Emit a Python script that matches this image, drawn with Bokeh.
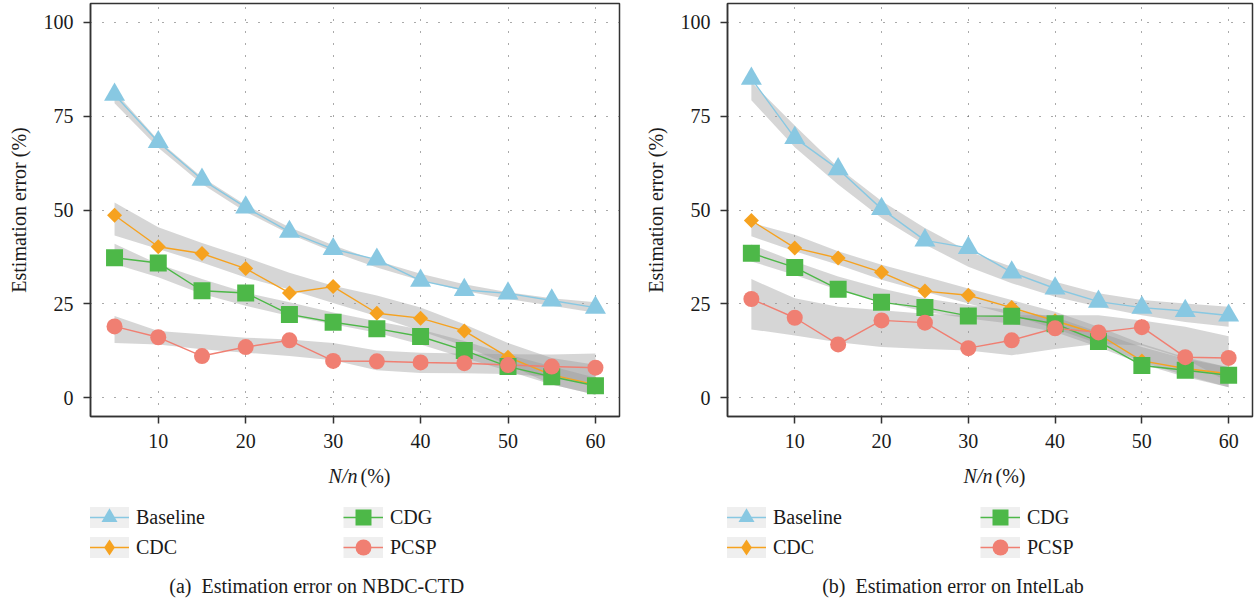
import math
from bokeh.plotting import figure
from bokeh.models import Range1d, FixedTicker, Legend, LegendItem, Label
from bokeh.layouts import row, column
from bokeh.embed import file_html
from bokeh.resources import INLINE

FONT = "Liberation Serif"

# ---------------- data ----------------
N_PCT = [5, 10, 15, 20, 25, 30, 35, 40, 45, 50, 55, 60]
METHODS = ["Baseline", "CDC", "CDG", "PCSP"]
LEGEND_ROWS = [["Baseline", "CDG"], ["CDC", "PCSP"]]
X_TICKS = [10, 20, 30, 40, 50, 60]
Y_TICKS = [0, 25, 50, 75, 100]

# (a) NBDC-CTD : measured errors
A_BASELINE = [80.7, 68.1, 58.1, 50.7, 44.2, 39.6, 36.8, 31.2, 28.7, 27.8, 25.9, 24.0]
A_CDC = [48.6, 40.2, 38.4, 34.4, 27.9, 29.6, 22.5, 21.2, 17.8, 10.8, 6.1, 3.5]
A_CDG = [37.3, 35.9, 28.5, 27.9, 22.2, 20.1, 18.4, 16.3, 12.6, 8.3, 5.6, 3.2]
A_PCSP = [19.0, 16.1, 11.1, 13.5, 15.3, 9.8, 9.7, 9.4, 9.2, 8.7, 8.3, 8.0]
# (a) smoothing confidence bands (lower, upper)
A_BASELINE_LO = [78.4, 66.6, 56.9, 49.5, 43.6, 38.8, 34.7, 31.2, 28.4, 26.3, 24.5, 22.6]
A_BASELINE_HI = [81.6, 68.6, 58.7, 51.3, 45.4, 40.6, 36.5, 33.0, 30.2, 28.1, 26.5, 25.4]
A_CDC_LO = [43.2, 39.6, 36.0, 32.0, 28.8, 25.2, 21.7, 17.8, 13.8, 8.8, 3.5, 0.8]
A_CDC_HI = [52.0, 45.4, 41.2, 37.4, 33.3, 29.8, 27.2, 24.0, 19.6, 14.6, 10.6, 8.8]
A_CDG_LO = [35.6, 32.1, 27.6, 24.5, 21.8, 19.6, 17.3, 14.2, 10.6, 7.1, 3.5, 0.8]
A_CDG_HI = [41.0, 35.6, 31.6, 28.0, 25.4, 22.7, 20.4, 18.2, 15.1, 11.5, 8.4, 5.3]
A_PCSP_LO = [14.6, 14.2, 12.9, 12.0, 11.1, 10.0, 7.3, 6.6, 6.5, 6.3, 5.5, 4.0]
A_PCSP_HI = [21.8, 17.8, 16.9, 16.0, 15.5, 14.6, 12.6, 12.0, 11.8, 11.6, 11.5, 11.8]

# (b) IntelLab : measured errors
B_BASELINE = [85.0, 69.2, 60.9, 50.3, 41.9, 39.9, 33.4, 29.1, 25.6, 24.0, 23.1, 21.9]
B_CDC = [47.2, 39.9, 37.2, 33.4, 28.4, 27.3, 24.0, 20.5, 16.9, 9.8, 7.8, 6.4]
B_CDG = [38.5, 34.7, 28.9, 25.4, 24.0, 21.8, 21.7, 19.7, 15.0, 8.6, 7.3, 6.0]
B_PCSP = [26.3, 21.3, 14.2, 20.6, 20.0, 13.2, 15.3, 18.5, 17.4, 18.8, 10.8, 10.6]
# (b) smoothing confidence bands (lower, upper)
B_BASELINE_LO = [79.2, 66.7, 56.8, 47.9, 40.8, 34.9, 30.5, 26.9, 24.2, 22.0, 20.2, 18.9]
B_BASELINE_HI = [84.1, 72.5, 61.3, 52.4, 45.2, 39.0, 34.9, 30.9, 27.8, 26.0, 25.1, 24.2]
B_CDC_LO = [43.0, 39.0, 35.4, 31.4, 28.2, 25.1, 22.0, 18.4, 14.4, 9.5, 5.9, 2.8]
B_CDC_HI = [46.6, 43.4, 39.0, 35.4, 32.3, 29.1, 26.0, 22.9, 18.9, 14.4, 10.8, 8.1]
B_CDG_LO = [36.3, 32.7, 28.7, 25.6, 22.9, 21.1, 19.7, 17.5, 13.5, 9.0, 5.5, 2.8]
B_CDG_HI = [40.8, 36.3, 32.3, 29.1, 26.5, 24.7, 23.3, 21.5, 17.5, 13.5, 10.4, 8.1]
B_PCSP_LO = [18.2, 16.6, 14.8, 13.5, 13.0, 12.6, 11.3, 13.0, 14.4, 13.9, 10.4, 4.1]
B_PCSP_HI = [31.6, 26.5, 24.2, 23.3, 22.4, 22.0, 22.0, 22.0, 22.0, 20.6, 18.9, 16.4]

CAPTION_A = ("(a)", "Estimation error on NBDC-CTD")
CAPTION_B = ("(b)", "Estimation error on IntelLab")
Y_TITLE = "Estimation error (%)"
X_TITLE = ("N/n", "(%)")

# ---------------- styles ----------------
COLORS = {"Baseline": "#88C8E2", "CDC": "#F6A21F", "CDG": "#4DB848", "PCSP": "#F07F72"}
MARKERS = {"Baseline": ("triangle", 21, 0.0), "CDC": ("square", 10.6, math.pi / 4),
           "CDG": ("square", 17, 0.0), "PCSP": ("circle", 16, 0.0)}
LEGEND_MARKERS = {"Baseline": "triangle", "CDC": "diamond", "CDG": "square", "PCSP": "circle"}
TXT = "#1a1a1a"
NAN = [float("nan")]

MAIN_H = 456
FOOT_H = 142


def make_panel(values, bands, width, mb_left, mb_right):
    p = figure(width=width, height=MAIN_H, x_range=Range1d(2.25, 62.75), y_range=Range1d(-5, 105),
               output_backend="svg", toolbar_location=None, title=None,
               min_border_left=mb_left, min_border_right=mb_right,
               min_border_top=3, min_border_bottom=40)
    p.background_fill_color = "white"
    p.border_fill_color = "white"
    p.outline_line_color = "#333333"
    p.outline_line_width = 1.5
    p.outline_line_alpha = 1.0

    for ax in (p.xaxis[0], p.yaxis[0]):
        ax.axis_line_color = "#333333"
        ax.axis_line_width = 1.5
        ax.major_tick_line_color = "#333333"
        ax.major_tick_line_width = 1.5
        ax.major_tick_out = 7
        ax.major_tick_in = 0
        ax.minor_tick_line_color = None
        ax.major_label_text_font = FONT
        ax.major_label_text_font_size = "20px"
        ax.major_label_text_color = TXT
    p.xaxis.ticker = FixedTicker(ticks=X_TICKS)
    p.yaxis.ticker = FixedTicker(ticks=Y_TICKS)
    p.xaxis.major_label_standoff = 10
    p.yaxis.major_label_standoff = 10
    p.yaxis.axis_label = Y_TITLE
    p.yaxis.axis_label_text_font = FONT
    p.yaxis.axis_label_text_font_size = "20px"
    p.yaxis.axis_label_text_font_style = "normal"
    p.yaxis.axis_label_text_color = TXT
    p.yaxis.axis_label_standoff = 11

    for g in (p.xgrid[0], p.ygrid[0]):
        g.grid_line_color = "#555555"
        g.grid_line_width = 1
        g.grid_line_dash = "1 11"

    for m in METHODS:
        lo, hi = bands[m]
        p.varea(x=N_PCT, y1=lo, y2=hi, fill_color="#999999", fill_alpha=0.4)
    for m in METHODS:
        p.line(N_PCT, values[m], line_color=COLORS[m], line_width=1.4)
    for m in METHODS:
        marker, size, angle = MARKERS[m]
        p.scatter(N_PCT, values[m], marker=marker, size=size, angle=angle,
                  fill_color=COLORS[m], line_color=None)
    return p


def make_foot(width, frame_w, caption, cap_cx):
    # the frame of this strip is aligned with the frame of the chart above it
    f = figure(width=width, height=FOOT_H, x_range=Range1d(0, 1), y_range=Range1d(0, 1),
               output_backend="svg", toolbar_location=None, title=None,
               x_axis_location=None, y_axis_location=None,
               min_border_left=0, min_border_right=0, min_border_top=0, min_border_bottom=0)
    f.grid.visible = False
    f.outline_line_color = None
    f.background_fill_color = "white"
    f.border_fill_color = "white"

    # legend rows (proxy renderers carry only the style of each series)
    for r, (names, y_loc) in enumerate(zip(LEGEND_ROWS, [61, 31])):
        items = []
        for m in names:
            bg = f.line(NAN, NAN, line_color="#efefef", line_width=21, line_cap="butt")
            ln = f.line(NAN, NAN, line_color=COLORS[m], line_width=1.4)
            sc = f.scatter(NAN, NAN, marker=LEGEND_MARKERS[m], fill_color=COLORS[m],
                           line_color=None)
            items.append(LegendItem(label=m, renderers=[bg, ln, sc]))
        legend = Legend(items=items, location=(-1, y_loc), orientation="horizontal",
                        glyph_width=40, glyph_height=40, label_width=207, label_height=20,
                        label_standoff=7, spacing=0, padding=0, margin=0,
                        border_line_color=None, background_fill_alpha=0,
                        label_text_font=FONT, label_text_font_size="20px",
                        label_text_color=TXT)
        f.add_layout(legend, "center")

    # x-axis title: italic N/n followed by (%)
    axis_cx = frame_w / 2 + 1.5
    f.add_layout(Label(x=axis_cx + 1, y=123, x_units="screen", y_units="screen", text=X_TITLE[0],
                       text_font=FONT, text_font_size="20px", text_font_style="italic",
                       text_align="right", text_baseline="middle", text_color=TXT))
    f.add_layout(Label(x=axis_cx + 4, y=123, x_units="screen", y_units="screen", text=X_TITLE[1],
                       text_font=FONT, text_font_size="20px", text_align="left",
                       text_baseline="middle", text_color=TXT))
    # caption
    f.add_layout(Label(x=cap_cx - 10, y=13, x_units="screen", y_units="screen", text=caption[0],
                       text_font=FONT, text_font_size="20px", text_align="right",
                       text_baseline="middle", text_color=TXT))
    f.add_layout(Label(x=cap_cx, y=13, x_units="screen", y_units="screen", text=caption[1],
                       text_font=FONT, text_font_size="20px", text_align="left",
                       text_baseline="middle", text_color=TXT))
    return f


vals_a = {"Baseline": A_BASELINE, "CDC": A_CDC, "CDG": A_CDG, "PCSP": A_PCSP}
bands_a = {"Baseline": (A_BASELINE_LO, A_BASELINE_HI), "CDC": (A_CDC_LO, A_CDC_HI),
           "CDG": (A_CDG_LO, A_CDG_HI), "PCSP": (A_PCSP_LO, A_PCSP_HI)}
vals_b = {"Baseline": B_BASELINE, "CDC": B_CDC, "CDG": B_CDG, "PCSP": B_PCSP}
bands_b = {"Baseline": (B_BASELINE_LO, B_BASELINE_HI), "CDC": (B_CDC_LO, B_CDC_HI),
           "CDG": (B_CDG_LO, B_CDG_HI), "PCSP": (B_PCSP_LO, B_PCSP_HI)}

WA, WB = 640, 619
LA, RA = 90, 21
LB, RB = 87, 7
pa = make_panel(vals_a, bands_a, WA, LA, RA)
pb = make_panel(vals_b, bands_b, WB, LB, RB)
fa = make_foot(WA, WA - LA - RA, CAPTION_A, 111)
fb = make_foot(WB, WB - LB - RB, CAPTION_B, 128)

layout = row(column(pa, fa, spacing=0), column(pb, fb, spacing=0), spacing=0)
open("out.html", "w").write(file_html(layout, INLINE))
